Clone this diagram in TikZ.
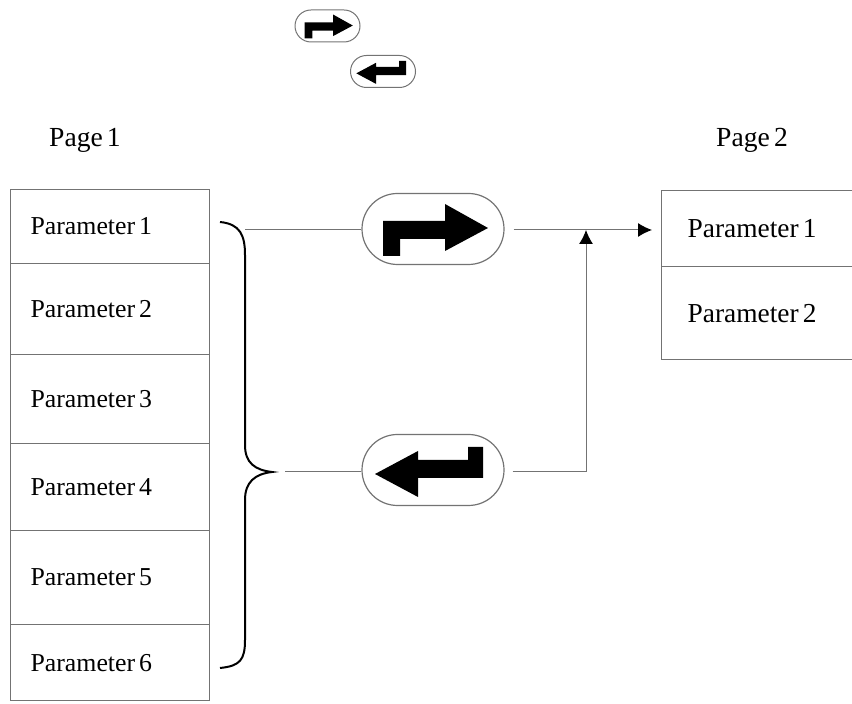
\documentclass[tikz,border=0pt]{standalone}
\usepackage{fontspec}
\setmainfont{Liberation Serif}[WordSpace=0.6]
\usetikzlibrary{shapes.misc,arrows.meta}
\tikzset{
  cell/.style={draw=black!55, line width=0.6pt, anchor=north west, minimum width=99.5pt,
    text width=79.5pt, inner xsep=10pt, align=left, font=\fontsize{12.9}{15}\selectfont,
    execute at begin node={\spaceskip=0.15em\relax}},
  pill/.style={draw=black!55, line width=0.6pt, rounded rectangle, minimum width=71pt,
    minimum height=35.5pt, inner sep=0pt},
  minipill/.style={pill, minimum width=32.5pt, minimum height=16pt, line width=0.5pt},
  conn/.style={draw=black!55, line width=0.5pt},
  tip/.style={-{Latex[length=7pt,width=7pt,black]}},
  pagelabel/.style={font=\fontsize{13.8}{16}\selectfont},
  pics/fwdglyph/.style={code={
    \fill (-50,27) -- (-50,-8) -- (12,-8) -- (12,-25) -- (55,-1) -- (12,22) -- (12,10)
      -- (-33,10) -- (-33,27) -- cycle;}},
  pics/backglyph/.style={code={
    \fill (50,-23) -- (50,8) -- (-15,8) -- (-15,27) -- (-58,4) -- (-15,-19) -- (-15,-10)
      -- (35,-10) -- (35,-23) -- cycle;}}
}
\begin{document}
\begin{tikzpicture}[x=0.5pt,y=-0.5pt]
  \useasboundingbox (0,0) rectangle (852,704);
  % key icons
  \node[minipill] (keyfwd) at (327.5,26) {};
  \pic[scale=0.46] at (keyfwd) {fwdglyph};
  \node[minipill] (keyback) at (383,71.5) {};
  \pic[scale=0.46] at (keyback) {backglyph};
  % page 1
  \node[pagelabel] (page1) at (85,140) {Page 1};
  \foreach \i/\t/\b in {1/189/263, 2/263/354, 3/354/443, 4/443/530, 5/530/624, 6/624/700}
    \node[cell, minimum height={(\b-\t)*0.5pt}] (pg1-\i) at (10,\t) {Parameter \i};
  % page 2
  \node[pagelabel] (page2) at (752,140) {Page 2};
  \node[cell, minimum width=100pt, text width=74pt, inner xsep=13pt, minimum height=38pt,
    font=\fontsize{13.7}{16}\selectfont] (pg2-1) at (661,190) {Parameter 1};
  \node[cell, minimum width=100pt, text width=74pt, inner xsep=13pt, minimum height=46.5pt,
    font=\fontsize{13.7}{16}\selectfont] (pg2-2) at (661,266) {Parameter 2};
  % brace
  \draw[line width=1pt] (220,222) .. controls (240,224) and (245,235) .. (245,255)
    -- (245,445) .. controls (245,463) and (255,470) .. (272,472)
    .. controls (255,474) and (245,482) .. (245,500)
    -- (245,640) .. controls (245,660) and (240,666) .. (220,668);
  \coordinate (bhook) at (245,230);
  \coordinate (btip) at (285,472);
  % keys
  \node[pill] (fwd) at (433,229) {};
  \pic at (fwd) {fwdglyph};
  \node[pill] (back) at (433,470) {};
  \pic at (back) {backglyph};
  \coordinate (join) at (586,230);
  % connectors
  \draw[conn] (bhook) -- (fwd.west |- bhook);
  \draw[conn] (btip) -- (back.west |- btip);
  \draw[conn, tip, shorten <=4.5pt, shorten >=4.5pt] (fwd.east |- join) -- (pg2-1.west |- join);
  \draw[conn, tip, shorten <=4pt] (back.east |- btip) -| (join);
\end{tikzpicture}
\end{document}
